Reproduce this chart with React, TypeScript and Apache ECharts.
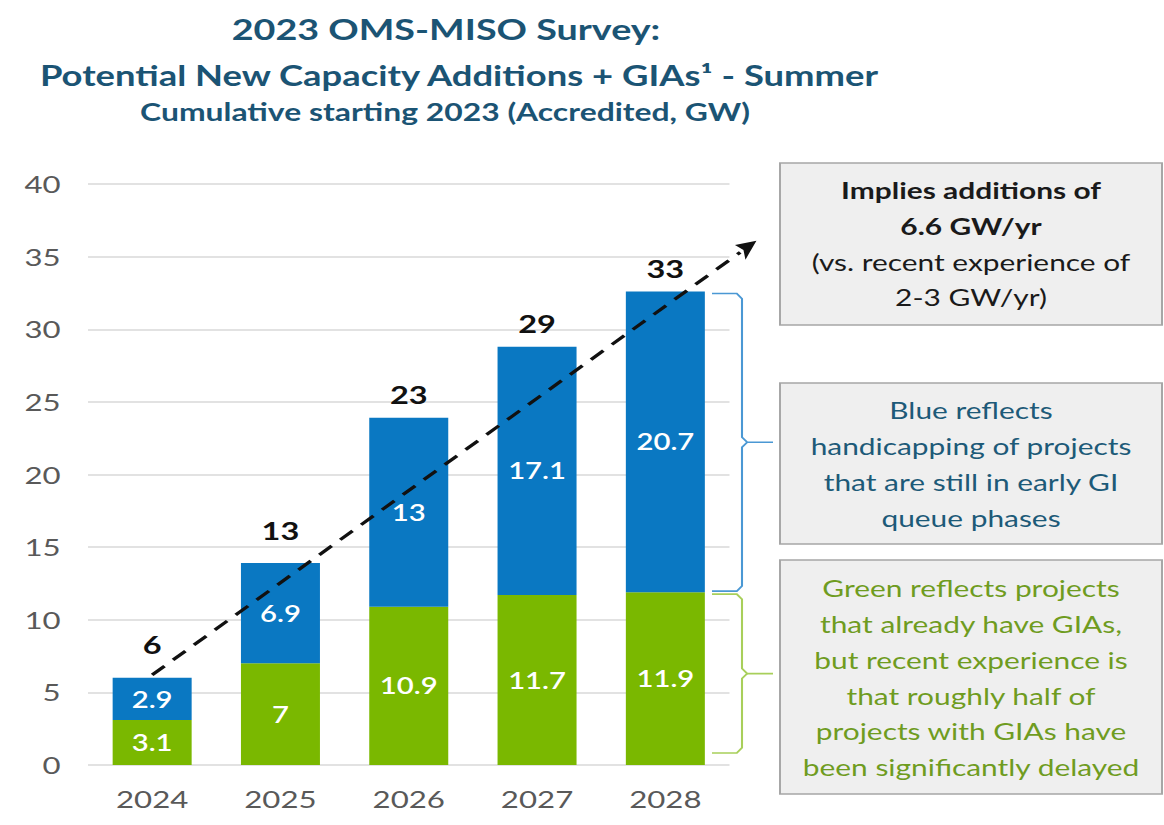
import React, { useEffect, useRef } from 'react';
import * as echarts from 'echarts';

const categories = ['2024', '2025', '2026', '2027', '2028'];
const greenValues = [3.1, 7, 10.9, 11.7, 11.9];
const blueValues = [2.9, 6.9, 13, 17.1, 20.7];
const totalLabels = ['6', '13', '23', '29', '33'];
// trend arrow endpoints: [category index, GW]
const trendStart = [0, 6.2];
const trendEnd = [4.71, 36.1];

const titleLines = [
  '2023 OMS-MISO Survey:',
  'Potential New Capacity Additions + GIAs\u00B9 - Summer',
  'Cumulative starting 2023 (Accredited, GW)',
];
const impliesLines = ['Implies additions of', '6.6 GW/yr', '(vs. recent experience of', '2-3 GW/yr)'];
const blueNoteLines = ['Blue reflects', 'handicapping of projects', 'that are still in early GI', 'queue phases'];
const greenNoteLines = [
  'Green reflects projects',
  'that already have GIAs,',
  'but recent experience is',
  'that roughly half of',
  'projects with GIAs have',
  'been significantly delayed',
];

const STRETCH = 1.3;
const W = 1164 / STRETCH;
const H = 825;
const sx = (x: number) => x / STRETCH;

const BLUE = '#0a78c2';
const GREEN = '#7ab800';
const TITLE = '#1b5474';
const FONT = 'Lato, "Open Sans", sans-serif';

export default function App() {
  const ref = useRef<HTMLDivElement>(null);
  useEffect(() => {
    document.body.style.margin = '0';
    document.body.style.overflow = 'hidden';
    const chart = echarts.init(ref.current!, null, { renderer: 'svg' });
    const option: any = {
      animation: false,
      backgroundColor: '#ffffff',
      textStyle: { fontFamily: FONT },
      grid: { left: sx(88), right: W - sx(730), top: 184, bottom: 60 },
      xAxis: {
        type: 'category',
        data: categories,
        axisLine: { show: false },
        axisTick: { show: false },
        axisLabel: { fontFamily: FONT, fontSize: 24, color: '#595959', margin: 22 },
      },
      yAxis: {
        type: 'value',
        min: 0,
        max: 40,
        interval: 5,
        axisLine: { show: false },
        axisTick: { show: false },
        axisLabel: { fontFamily: FONT, fontSize: 24, color: '#595959', margin: 21 },
        splitLine: { lineStyle: { color: '#d9d9d9', width: 1.5 } },
      },
      series: [
        {
          type: 'bar',
          stack: 'total',
          data: greenValues,
          barWidth: sx(79),
          itemStyle: { color: GREEN },
          label: { show: true, position: 'inside', color: '#ffffff', fontFamily: FONT, fontSize: 22.5, fontWeight: 600 },
        },
        {
          type: 'bar',
          stack: 'total',
          data: blueValues,
          barWidth: sx(79),
          itemStyle: { color: BLUE },
          label: { show: true, position: 'inside', color: '#ffffff', fontFamily: FONT, fontSize: 22.5, fontWeight: 600 },
        },
        {
          type: 'bar',
          stack: 'total',
          data: totalLabels.map((_, i) => ({ value: 0, label: { distance: i < 2 ? 21 : 11 } })),
          barWidth: sx(79),
          itemStyle: { color: 'rgba(0,0,0,0)' },
          label: {
            show: true,
            position: 'top',
            color: '#111111',
            fontFamily: FONT,
            fontSize: 25,
            fontWeight: 'bold',
            formatter: (p: any) => totalLabels[p.dataIndex],
          },
        },
      ],
    };
    chart.setOption(option);

    const toPx = (idx: number, v: number) => {
      const a = chart.convertToPixel({ gridIndex: 0 }, [0, v]) as number[];
      const b = chart.convertToPixel({ gridIndex: 0 }, [4, v]) as number[];
      return [a[0] + ((b[0] - a[0]) * idx) / 4, a[1]];
    };

    const g: any[] = [];
    // titles
    const titleDefs = [
      { x: 446, y: 29, font: `bold 29px ${FONT}` },
      { x: 459, y: 75, font: `bold 28px ${FONT}` },
      { x: 445, y: 112, font: `bold 24.5px ${FONT}` },
    ];
    titleLines.forEach((t, i) => {
      g.push({
        type: 'text',
        x: sx(titleDefs[i].x),
        y: titleDefs[i].y,
        style: {
          text: t,
          font: titleDefs[i].font,
          fill: TITLE,
          align: 'center',
          verticalAlign: 'middle',
          textAlign: 'center',
          textVerticalAlign: 'middle',
        },
      });
    });

    // trend arrow
    const p0 = toPx(trendStart[0], trendStart[1]);
    const p1 = toPx(trendEnd[0], trendEnd[1]);
    const D0 = [p0[0] * STRETCH, p0[1]];
    const D1 = [p1[0] * STRETCH, p1[1]];
    const len = Math.hypot(D1[0] - D0[0], D1[1] - D0[1]);
    const dir = [(D1[0] - D0[0]) / len, (D1[1] - D0[1]) / len];
    const perp = [-dir[1], dir[0]];
    const headL = 20;
    const headW = 9;
    const base = [D1[0] - dir[0] * headL, D1[1] - dir[1] * headL];
    const back = (p: number[]) => [p[0] / STRETCH, p[1]];
    g.push({
      type: 'line',
      shape: { x1: p0[0], y1: p0[1], x2: base[0] / STRETCH, y2: base[1] },
      style: { stroke: '#111111', lineWidth: 3, lineDash: [13, 9] },
      z: 10,
    });
    g.push({
      type: 'polygon',
      shape: {
        points: [
          back(D1),
          back([base[0] + perp[0] * headW, base[1] + perp[1] * headW]),
          back([base[0] + dir[0] * 4, base[1] + dir[1] * 4]),
          back([base[0] - perp[0] * headW, base[1] - perp[1] * headW]),
        ],
      },
      style: { fill: '#111111' },
      z: 10,
    });

    // brackets
    const xl = sx(712);
    const xv = sx(742);
    const xt = sx(773);
    const r = 4;
    const brace = (yTop: number, yBot: number, color: string) => {
      const ym = (yTop + yBot) / 2;
      const st = { stroke: color, lineWidth: 1.6, fill: null };
      g.push({
        type: 'polyline',
        shape: { points: [[xl, yTop], [xv - r, yTop], [xv, yTop + r * 1.3], [xv, ym - 5], [xv + r, ym], [xt, ym]] },
        style: st,
      });
      g.push({
        type: 'polyline',
        shape: { points: [[xv + r, ym], [xv, ym + 5], [xv, yBot - r * 1.3], [xv - r, yBot], [xl, yBot]] },
        style: st,
      });
    };
    const last = greenValues.length - 1;
    const yBlueTop = toPx(last, greenValues[last] + blueValues[last])[1];
    const yMid = toPx(last, greenValues[last])[1];
    const yZero = toPx(last, 0)[1];
    brace(yBlueTop + 2, yMid - 1, '#4a98d4');
    brace(yMid + 2, yZero - 12, '#a8cf5a');

    // note boxes
    const boxDefs = [
      { top: 163, bottom: 325, lines: impliesLines, color: '#1a1a1a', ys: [190, 226, 262, 297], bold: [true, true, false, false] },
      { top: 383, bottom: 544, lines: blueNoteLines, color: '#1d5a78', ys: [410, 446, 482, 518], bold: [] as boolean[] },
      { top: 560, bottom: 794, lines: greenNoteLines, color: '#6f9c1f', ys: [588, 624, 660, 696, 731, 767], bold: [] as boolean[] },
    ];
    boxDefs.forEach((b) => {
      g.push({
        type: 'rect',
        shape: { x: sx(780), y: b.top, width: sx(1162) - sx(780), height: b.bottom - b.top },
        style: { fill: '#efefef', stroke: '#a6a6a6', lineWidth: 1.5 },
      });
      b.lines.forEach((t, i) => {
        g.push({
          type: 'text',
          x: sx(971),
          y: b.ys[i],
          style: {
            text: t,
            font: `${b.bold[i] ? 'bold ' : ''}23px ${FONT}`,
            fill: b.color,
            align: 'center',
            verticalAlign: 'middle',
            textAlign: 'center',
            textVerticalAlign: 'middle',
          },
        });
      });
    });

    chart.setOption({ graphic: { elements: g } });
    return () => chart.dispose();
  }, []);

  return (
    <div
      ref={ref}
      style={{ width: W, height: H, transform: `scaleX(${STRETCH})`, transformOrigin: '0 0' }}
    />
  );
}
